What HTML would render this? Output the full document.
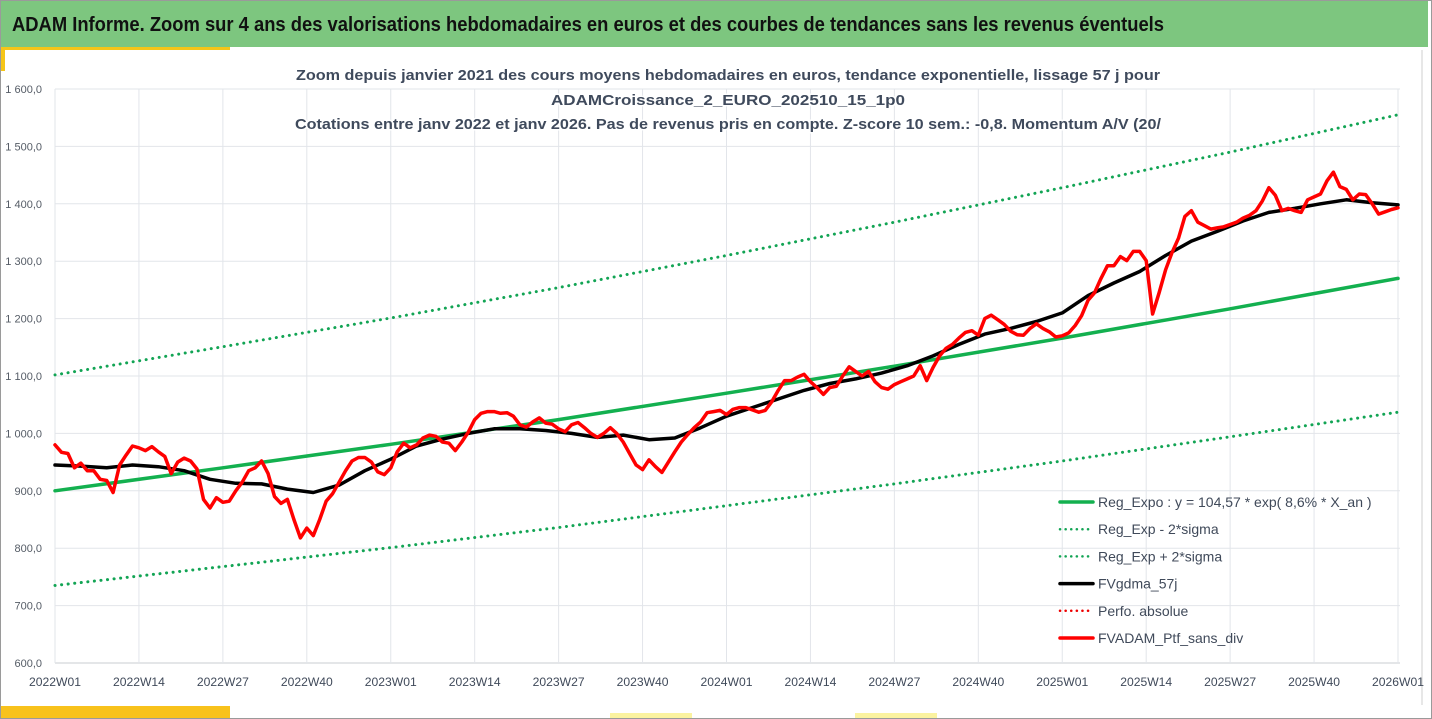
<!DOCTYPE html>
<html><head><meta charset="utf-8"><style>
html,body{margin:0;padding:0;background:#fff;}
svg{display:block;font-family:"Liberation Sans",sans-serif;}
</style></head><body>
<svg id="chart" width="1432" height="719" viewBox="0 0 1432 719">
<rect x="0.5" y="0.5" width="1431" height="718" fill="#fff" stroke="#9a9a9a"/>
<rect x="1" y="1" width="1427" height="46" fill="#7dc67f"/>
<text x="12" y="31" font-size="20" font-weight="bold" fill="#111" textLength="1152" lengthAdjust="spacingAndGlyphs">ADAM Informe. Zoom sur 4 ans des valorisations hebdomadaires en euros et des courbes de tendances sans les revenus éventuels</text>
<rect x="1" y="47" width="229" height="3" fill="#f5c518"/>
<rect x="1" y="47" width="4" height="24" fill="#f5c518"/>
<rect x="1" y="706" width="229" height="12" fill="#f8c21c"/>
<rect x="610" y="713" width="82" height="5" fill="#fbf3a0"/>
<rect x="855" y="713" width="82" height="5" fill="#fbf3a0"/>
<line x1="1422" y1="50" x2="1422" y2="705" stroke="#cfcfcf"/>
<g id="grid"></g><g id="axes"></g><g id="series"></g><g id="legend"></g>
<g fill="#3f4a5c" font-weight="bold" font-size="15" text-anchor="middle" stroke="#fff" stroke-width="3" paint-order="stroke">
<text x="728" y="80" textLength="864" lengthAdjust="spacingAndGlyphs">Zoom depuis janvier 2021 des cours moyens hebdomadaires  en euros, tendance exponentielle, lissage 57 j pour</text>
<text x="728" y="105" textLength="354" lengthAdjust="spacingAndGlyphs">ADAMCroissance_2_EURO_202510_15_1p0</text>
<text x="728" y="129" textLength="866" lengthAdjust="spacingAndGlyphs">Cotations entre janv 2022 et janv 2026. Pas de revenus pris en compte. Z-score 10 sem.: -0,8. Momentum A/V (20/</text>
</g>
</svg>
<script>
const yTicks=[600,700,800,900,1000,1100,1200,1300,1400,1500,1600];
const yTickLabels=["600,0","700,0","800,0","900,0","1 000,0","1 100,0","1 200,0","1 300,0","1 400,0","1 500,0","1 600,0"];
const xTickLabels=["2022W01","2022W14","2022W27","2022W40","2023W01","2023W14","2023W27","2023W40","2024W01","2024W14","2024W27","2024W40","2025W01","2025W14","2025W27","2025W40","2026W01"];
const redValues=[980,967,965,940,948,935,935,920,918,897,945,962,978,975,970,977,968,960,930,950,957,952,938,885,870,888,880,882,900,915,935,940,952,930,890,878,885,850,818,835,822,850,882,895,915,935,952,958,958,950,933,928,940,968,983,975,980,992,997,995,985,983,970,985,
1002,1024,1035,1038,1038,1035,1036,1030,1015,1011,1020,1027,1018,1016,1008,1003,1015,1019,1010,1000,993,1000,1010,1000,985,965,945,937,954,942,932,950,968,985,998,1010,1020,1036,1038,1040,1033,1042,1045,1045,1041,1037,1040,1055,1075,1092,
1092,1098,1103,1090,1080,1068,1080,1082,1100,1116,1108,1100,1108,1090,1080,1077,1085,1090,1095,1100,1118,1092,1115,1135,1148,1155,1166,1176,1179,1171,1200,1206,1198,1190,1178,1172,1171,1183,1191,1183,1177,1168,1170,1175,1188,1205,1232,1245,
1270,1292,1292,1308,1301,1317,1317,1301,1208,1245,1285,1315,1340,1378,1388,1368,1362,1356,1358,1360,1364,1368,1375,1380,1388,1405,1428,1415,1388,1392,1388,1385,1407,1412,1417,1440,1455,1430,1425,1407,1417,1416,1400,1382,1386,1390,1393];
const blackWeeks=[0,4,8,12,16,20,24,28,32,36,40,44,48,52,56,60,64,68,72,76,80,84,88,92,96,100,104,108,112,116,120,124,128,132,136,140,144,148,152,156,160,164,168,172,176,180,184,188,192,196,200,204,208];
const blackValues=[945,943,940,945,942,935,920,913,912,903,897,910,935,955,978,990,1000,1008,1008,1005,1000,993,997,989,992,1010,1030,1045,1060,1075,1087,1095,1105,1118,1135,1155,1173,1183,1195,1210,1240,1262,1282,1310,1335,1352,1370,1385,1392,1400,1407,1402,1398];
const regWeeks=[0,26,52,78,104,130,156,182,208];
const regValues=[900,940,981,1024,1070,1117,1166,1217,1270];
const regLowValues=[735,768,801,836,874,912,952,994,1037];
const regHighValues=[1102,1151,1201,1254,1310,1368,1428,1490,1555];
const legendLabels=["Reg_Expo : y = 104,57 * exp( 8,6% *  X_an )","Reg_Exp - 2*sigma","Reg_Exp + 2*sigma","FVgdma_57j","Perfo. absolue","FVADAM_Ptf_sans_div"];

const NS="http://www.w3.org/2000/svg";
const L=55,R=1398,T=89,B=663,NW=208;
const xS=w=>L+(R-L)*w/NW;
const yS=v=>B-(v-600)*(B-T)/1000;
function mk(tag,attrs,parent){const e=document.createElementNS(NS,tag);for(const k in attrs)e.setAttribute(k,attrs[k]);parent.appendChild(e);return e;}
const grid=document.getElementById('grid'),axes=document.getElementById('axes'),series=document.getElementById('series'),legend=document.getElementById('legend');
yTicks.forEach((v,i)=>{
  const ln=mk('line',{x1:L,x2:R+2,y1:yS(v),y2:yS(v),stroke:v===600?'#c8ccd2':'#e2e5ea','stroke-width':1},grid);
  
  
  const t=mk('text',{x:42,y:yS(v)+4,'font-size':11,'text-anchor':'end',fill:'#555c66'},axes);
  t.textContent=yTickLabels[i];
  
  
});
xTickLabels.forEach((s,i)=>{
  const x=xS(i*13);
  const ln=mk('line',{x1:x,x2:x,y1:T,y2:B,stroke:'#e2e5ea','stroke-width':1},grid);
  
  
  const t=mk('text',{x:x,y:686,'font-size':12,'text-anchor':'middle',fill:'#404a5a',textLength:52,lengthAdjust:'spacingAndGlyphs'},axes);
  t.textContent=s;
  
  
});
function path(ws,vs,attrs,name){
  const d=vs.map((v,i)=>(i?'L':'M')+xS(ws[i]).toFixed(1)+','+yS(v).toFixed(1)).join('');
  const p=mk('path',Object.assign({d:d,fill:'none','stroke-linejoin':'round','stroke-linecap':'round'},attrs),series);
  
  
}
path(regWeeks,regHighValues,{stroke:'#12a454','stroke-width':3,'stroke-dasharray':'0.1 6.5'},'reg-plus-2sigma-line');
path(regWeeks,regLowValues,{stroke:'#12a454','stroke-width':3,'stroke-dasharray':'0.1 6.5'},'reg-minus-2sigma-line');
path(regWeeks,regValues,{stroke:'#13b04f','stroke-width':3.5},'reg-expo-line');
path(blackWeeks,blackValues,{stroke:'#000','stroke-width':3.5},'fvgdma-57j-line');
path(redValues.map((v,i)=>i),redValues,{stroke:'#f00','stroke-width':3.5},'fvadam-ptf-line');
const lstyles=[{stroke:'#13b04f','stroke-width':3.5},{stroke:'#12a454','stroke-width':2.5,'stroke-dasharray':'0.1 5.5'},{stroke:'#12a454','stroke-width':2.5,'stroke-dasharray':'0.1 5.5'},{stroke:'#000','stroke-width':3.5},{stroke:'#e00','stroke-width':2.5,'stroke-dasharray':'0.1 5.5'},{stroke:'#f00','stroke-width':3.5}];
const lnames=['legend-reg-expo','legend-reg-minus','legend-reg-plus','legend-fvgdma','legend-perfo','legend-fvadam'];
legendLabels.forEach((s,i)=>{
  const y=502+i*27.2;
  const g=mk('g',{},legend);
  
  
  mk('line',Object.assign({x1:1060,x2:1093,y1:y,y2:y,'stroke-linecap':'round'},lstyles[i]),g);
  const t=mk('text',{x:1098,y:y+5,'font-size':14,fill:'#404a5a'},g);
  t.textContent=s;
});
</script>
</body></html>
